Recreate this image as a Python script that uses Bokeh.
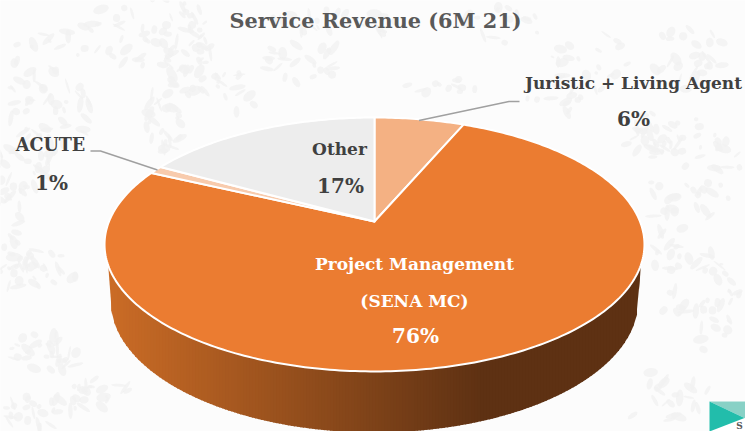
import math
from bokeh.plotting import figure
from bokeh.models import Range1d
from bokeh.core.properties import value
from bokeh.embed import file_html
from bokeh.resources import INLINE

title = "Service Revenue (6M 21)"
categories = ["Juristic + Living Agent", "Project Management (SENA MC)", "ACUTE", "Other"]
shares = [6.4, 75.6, 1, 17]
colors = ["#F4B183", "#EB7C31", "#F8CBAD", "#EDEDED"]

# reference-pixel frame of the drawing
p = figure(width=745, height=431, output_backend="svg", toolbar_location=None,
           x_range=Range1d(0, 745), y_range=Range1d(431, 0), min_border=0,
           border_fill_color="white", background_fill_color="#FCFCFC", outline_line_color=None)
p.axis.visible = False
p.grid.visible = False

# faint mottled backdrop (decoration only): specks around hand-placed regions (x, y, rx, ry, specks)
regions = [(50,90,45,70,60),(150,30,70,35,45),(185,55,25,45,36),(165,115,20,40,30),(25,160,30,35,27),
           (35,270,45,20,36),(45,345,40,30,30),(40,410,40,20,24),(300,60,40,25,24),(340,20,70,14,21),
           (500,25,40,18,15),(230,90,30,25,18),(590,60,40,30,21),(690,60,40,35,27),(695,170,50,55,54),
           (650,130,30,25,18),(700,300,40,50,42),(660,395,50,25,21),(440,90,40,14,12),(560,100,35,14,12),
           (100,400,35,22,21),(8,215,14,40,15),(665,240,18,35,15)]
def scatter_unit(a, b):
    v = math.sin(a * 12.9898 + b * 78.233) * 43758.5453
    return v - math.floor(v)
bx, by, bw, bh, ba = [], [], [], [], []
for i, (rx0, ry0, rw, rh, cnt) in enumerate(regions):
    for j in range(cnt):
        a = 2 * math.pi * scatter_unit(i + 1, j + 1)
        r = math.sqrt(scatter_unit(j + 3, i + 7))
        bx.append(rx0 + rw * r * math.cos(a))
        by.append(ry0 + rh * r * math.sin(a))
        bw.append(3 + 14 * scatter_unit(j + 11, i + 2))
        bh.append(2 + 7 * scatter_unit(i + 5, j + 13))
        ba.append(3.14 * scatter_unit(j + 17, i + 19))
p.ellipse(x=bx, y=by, width=bw, height=bh, angle=ba, fill_color="#F1F1F1", fill_alpha=0.8, line_color=None)

# tilted-disc projection
CX, CY = 374, 221
A, B, K = 265.5, 122.8, 0.181
def proj(frac):
    t = 2 * math.pi * frac
    u, v = math.sin(t), math.cos(t)
    d = 1 + K * v
    return CX + A * u / d, CY - B * v / d

# side wall
TOP_RX, TOP_RY, TOP_CY = 270, 127, 244
LOW_RX, LOW_RY, LOW_CY = 264, 132, 300
SPLIT_Y = 265
half_split = TOP_RX * math.sqrt(1 - ((SPLIT_Y - TOP_CY) / TOP_RY) ** 2)
def top_edge(x):
    r = (x - CX) / TOP_RX
    return TOP_CY + TOP_RY * math.sqrt(max(0, 1 - r * r))
def low_edge(x):
    dx = abs(x - CX)
    if dx >= LOW_RX:
        f = (half_split - dx) / (half_split - LOW_RX)
        return SPLIT_Y + (LOW_CY - SPLIT_Y) * max(0, f)
    return LOW_CY + LOW_RY * math.sqrt(1 - (dx / LOW_RX) ** 2)
def side_color(x):
    f = min(1, max(0, (x - 106) / (480 - 106)))
    c0, c1 = (0xCB, 0x6C, 0x26), (0x5E, 0x31, 0x13)
    return "#%02X%02X%02X" % tuple(round(a + (b - a) * f) for a, b in zip(c0, c1))

xs, ys, fs = [], [], []
x = CX - half_split
while x < CX + half_split - 0.01:
    x2 = min(x + 3, CX + half_split)
    x3 = min(x2 + 0.8, CX + half_split)
    xs.append([x, x3, x3, x])
    ys.append([top_edge(x) - 1, top_edge(x3) - 1, low_edge(x3), low_edge(x)])
    fs.append(side_color(x))
    x = x2
p.patches(xs, ys, fill_color=fs, line_color=None)

# top face
start = 0
for s, c in zip(shares, colors):
    n = max(4, round(s * 4))
    pts = [proj((start + s * i / n) / 100) for i in range(n + 1)]
    p.patch([CX] + [q[0] for q in pts], [CY] + [q[1] for q in pts], fill_color=c,
            line_color="white", line_width=2, line_join="round")
    start += s

# leader lines
p.line([418.5, 508.5, 519], [120, 101, 101], line_color="#A0A0A0", line_width=1.5)
p.line([90, 100, 157], [150.5, 150.5, 169.5], line_color="#A0A0A0", line_width=1.5)

# logo corner
p.patch([709, 745, 745, 709], [401, 401, 431, 431], fill_color="white", line_color=None)
p.patch([709, 745, 745], [401, 401, 418], fill_color="#88D1C6", line_color=None)
p.patch([709, 744, 709], [401, 417.5, 431], fill_color="#22BDAB", line_color=None)

FONT = value("DejaVu Serif")
def label(x, y, s, size, color):
    p.text([x], [y], text=[s], text_font=FONT, text_font_style="bold", text_font_size=size,
           text_color=color, text_align="center", text_baseline="middle")
label(375, 20, title, "20.8px", "#595959")
label(633, 82, categories[0], "17px", "#404040")
label(633, 118, f"{round(shares[0])}%", "20px", "#404040")
label(50, 144, categories[2], "17.6px", "#404040")
label(51, 182, f"{round(shares[2])}%", "20px", "#404040")
label(339, 148, categories[3], "17px", "#404040")
label(340, 185, f"{round(shares[3])}%", "20px", "#404040")
label(414, 263, "Project Management", "17px", "white")
label(414, 300, "(SENA MC)", "17px", "white")
label(415, 335, f"{round(shares[1])}%", "20px", "white")
label(739, 425, "S", "9px", "#595959")

open("out.html", "w").write(file_html(p, INLINE))
